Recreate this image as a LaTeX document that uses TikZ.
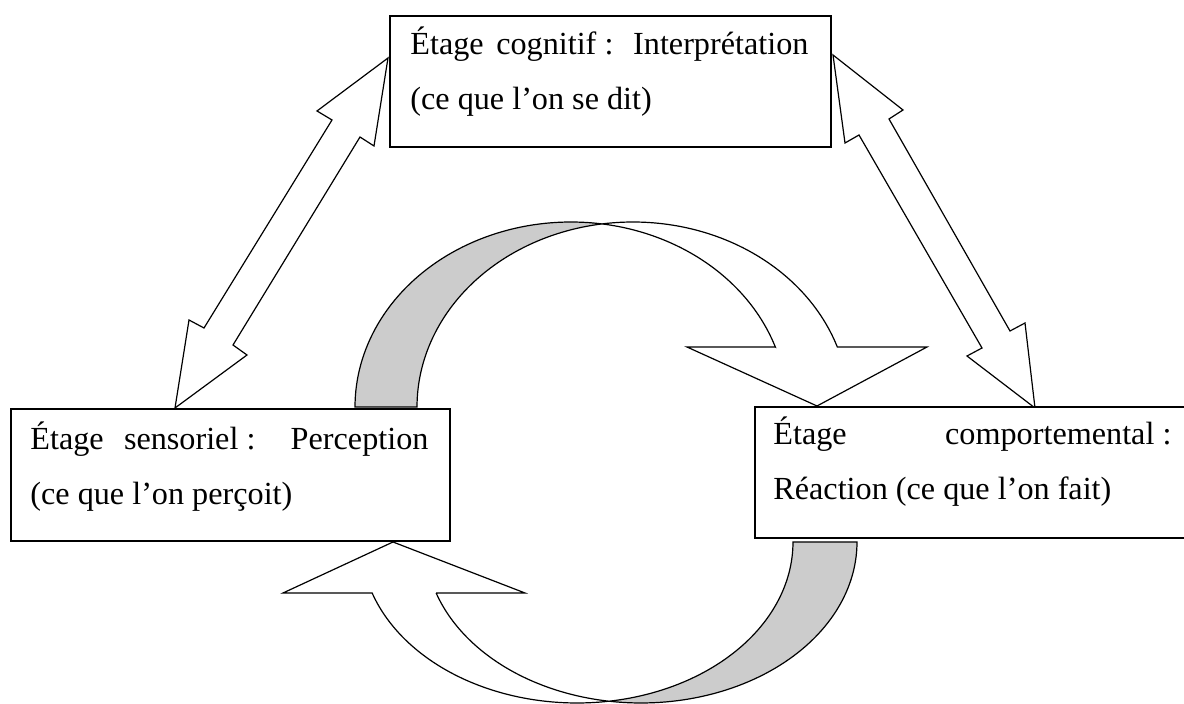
\documentclass[tikz,border=0pt]{standalone}
\usepackage{fontspec}
\setmainfont{Liberation Serif}
\definecolor{bandgray}{HTML}{CCCCCC}
\begin{document}
\begin{tikzpicture}[x=0.5pt,y=-0.5pt,
  boxst/.style={draw=black, line width=0.9pt, fill=white, inner sep=0pt, anchor=north west},
  txt/.style={inner sep=0pt, anchor=base west, font=\fontsize{16.1}{27.5}\selectfont},
  shp/.style={draw=black, line width=0.6pt, line join=miter, fill=white},
  band/.style={shp, fill=bandgray}]
\useasboundingbox (0,0) rectangle (1184,704);

% double arrows
\draw[shp] (388,58) -- (374,146) -- (360,137) -- (233,345) -- (247,355) -- (175,408)
  -- (189,320) -- (204,328) -- (332,120) -- (317,111) -- cycle;
\draw[shp] (833,55) -- (903,110) -- (889,119) -- (1010,331) -- (1025,323) -- (1035,408)
  -- (967,356) -- (982,348) -- (859,135) -- (845,143) -- cycle;

% upper curved arrow
\draw[band] plot[domain=180:81.75, samples=60] ({571+216*cos(\x)},{407-185*sin(\x)})
  -- plot[domain=98.25:180, samples=60] ({633+216*cos(\x)},{407-185*sin(\x)}) -- cycle;
\draw[shp] plot[domain=98.25:18.92, samples=60] ({633+216*cos(\x)},{407-185*sin(\x)})
  -- (927,347) -- (817,406) -- (687,347) -- (775.3,347)
  -- plot[domain=18.92:81.75, samples=60] ({571+216*cos(\x)},{407-185*sin(\x)}) -- cycle;

% lower curved arrow
\draw[band] plot[domain=0:98.5, samples=60] ({641+216*cos(\x)},{542+161*sin(\x)})
  -- plot[domain=81.5:0, samples=60] ({577+216*cos(\x)},{542+161*sin(\x)}) -- cycle;
\draw[shp] plot[domain=81.5:161.53, samples=60] ({577+216*cos(\x)},{542+161*sin(\x)})
  -- (283,593) -- (393,542) -- (525,593) -- (436.1,593)
  -- plot[domain=161.53:98.5, samples=60] ({641+216*cos(\x)},{542+161*sin(\x)}) -- cycle;

% boxes
\node[boxst, minimum width=220.5pt, minimum height=65.5pt] (cog) at (389,15) {};
\node[boxst, minimum width=219.5pt, minimum height=66pt] (sen) at (10,408) {};
\node[boxst, minimum width=230pt, minimum height=65.75pt] (com) at (754,406) {};

\node[txt] (cogt) at (410,55) {\parbox[t]{199pt}{\makebox[199pt][s]{Étage cognitif\kern0.25em: Interprétation}\\(ce que l’on se dit)}};
\node[txt] (sent) at (30,450) {\parbox[t]{199pt}{\makebox[199pt][s]{Étage sensoriel\kern0.25em: Perception}\\(ce que l’on perçoit)}};
\node[txt] (comt) at (773,445) {\parbox[t]{199pt}{\makebox[199pt][s]{Étage comportemental\kern0.25em:}\\Réaction (ce que l’on fait)}};
\end{tikzpicture}
\end{document}
